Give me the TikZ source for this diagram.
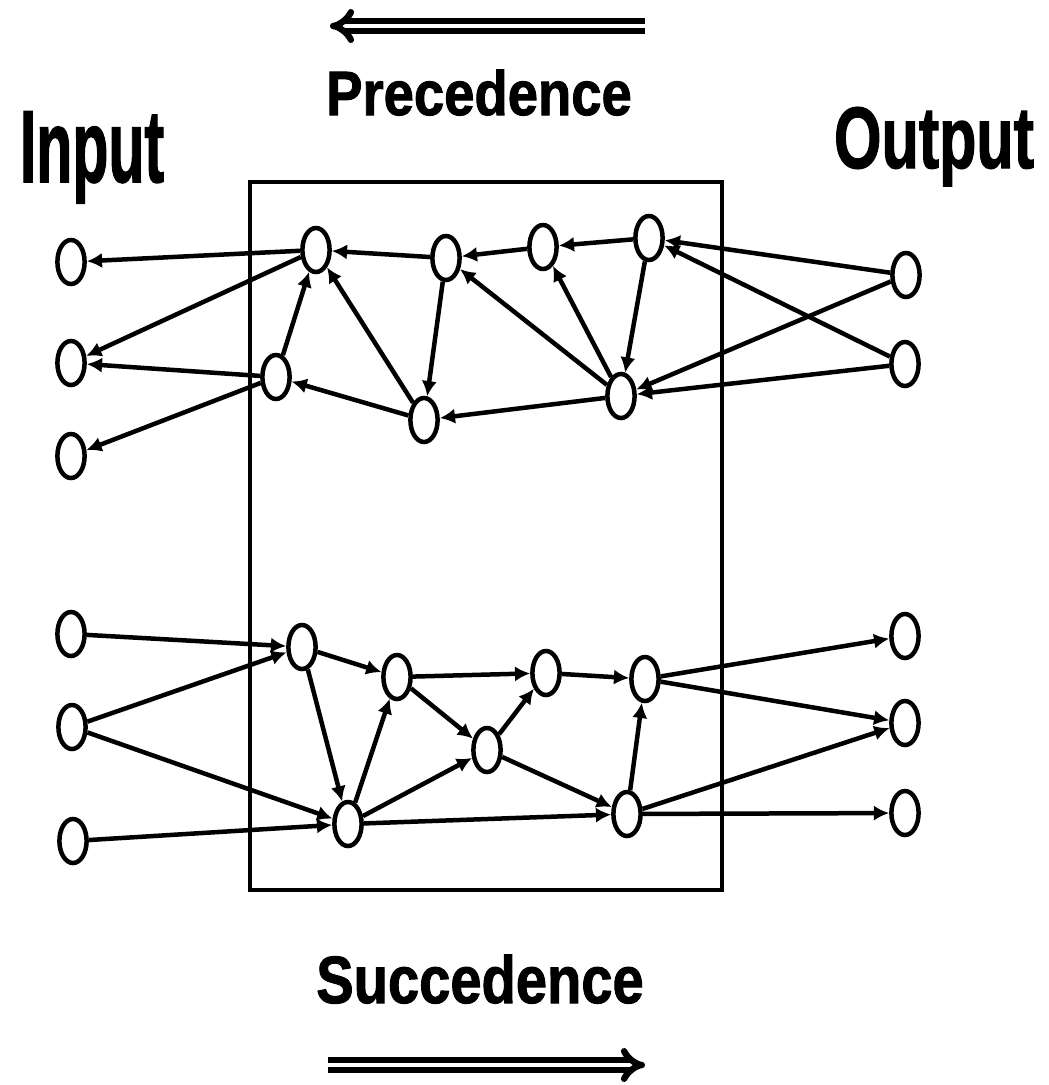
\documentclass[tikz,border=0pt]{standalone}
\usepackage{fontspec}
\setmainfont{Liberation Sans}
\newfontfamily\spesso[FakeBold=1.6]{Liberation Sans Bold}
\usetikzlibrary{arrows.meta, shapes.geometric}

\tikzset{
	nodo/.style={ellipse, draw, line width=3.2pt, minimum width=0.68cm, minimum height=1.1cm, inner sep=0pt, fill=white},
	freccia/.style={line width=3.2pt, -{Latex[length=0.38cm,width=0.38cm]}},
	grande/.style={line width=0.16cm, double distance=0.1cm, -{Implies[scale=1.35]}},
	etichetta/.style={inner sep=0pt, anchor=base},
}

\begin{document}
\begin{tikzpicture}[x=0.025cm, y=-0.025cm]
	
	% Sfondo e dimensioni
	\fill[white] (0,0) rectangle (1048,1085);
	\useasboundingbox (0,0) rectangle (1048,1085);
	
	% Scritte
	\node[etichetta] (tinput) at (92,182) {\fontsize{73}{80}\selectfont\spesso\scalebox{0.575}[1]{Input}};
	\node[etichetta] (toutput) at (934,168) {\fontsize{62}{70}\selectfont\spesso\scalebox{0.70}[1]{Output}};
	\node[etichetta] (tprec) at (479,115) {\fontsize{44.5}{50}\selectfont\spesso\scalebox{0.87}[1]{Precedence}};
	\node[etichetta] (tsucc) at (480,1003) {\fontsize{47.5}{52}\selectfont\spesso\scalebox{0.84}[1]{Succedence}};
	
	% Frecce grandi
	\coordinate (pinizio) at (645,26);
	\coordinate (pfine) at (330,26);
	\draw[grande] (pinizio) -- (pfine);
	\coordinate (sinizio) at (328,1065);
	\coordinate (sfine) at (645,1065);
	\draw[grande] (sinizio) -- (sfine);
	
	% Riquadro
	\draw[line width=2.6pt] (250,182) rectangle (722,890);
	
	% Nodi della parte superiore (precedenza)
	\node[nodo] (pi1) at (71,262) {};
	\node[nodo] (pi2) at (71,363) {};
	\node[nodo] (pi3) at (71,456) {};
	\node[nodo] (pa) at (316,250) {};
	\node[nodo] (pb) at (446,258) {};
	\node[nodo] (pc) at (543,247) {};
	\node[nodo] (pd) at (649,238) {};
	\node[nodo] (pe) at (276,377) {};
	\node[nodo] (pf) at (424,420) {};
	\node[nodo] (pg) at (621,396) {};
	\node[nodo] (po1) at (906,275) {};
	\node[nodo] (po2) at (905,364) {};
	
	% Archi della parte superiore
	\draw[freccia] (pa) -- (pi1);
	\draw[freccia] (pa) -- (pi2);
	\draw[freccia] (pe) -- (pi2);
	\draw[freccia] (pe) -- (pi3);
	\draw[freccia] (pe) -- (pa);
	\draw[freccia] (pb) -- (pa);
	\draw[freccia] (pf) -- (pa);
	\draw[freccia] (pf) -- (pe);
	\draw[freccia] (pb) -- (pf);
	\draw[freccia] (pc) -- (pb);
	\draw[freccia] (pg) -- (pb);
	\draw[freccia] (pd) -- (pc);
	\draw[freccia] (pg) -- (pc);
	\draw[freccia] (pd) -- (pg);
	\draw[freccia] (pg) -- (pf);
	\draw[freccia] (po1) -- (pd);
	\draw[freccia] (po2) -- (pd);
	\draw[freccia] (po1) -- (pg);
	\draw[freccia] (po2) -- (pg);
	
	% Nodi della parte inferiore (successione)
	\node[nodo] (si1) at (71,634) {};
	\node[nodo] (si2) at (72,727) {};
	\node[nodo] (si3) at (73,841) {};
	\node[nodo] (sa) at (302,647) {};
	\node[nodo] (sb) at (397,677) {};
	\node[nodo] (sc) at (348,824) {};
	\node[nodo] (sd) at (546,673) {};
	\node[nodo] (se) at (487,750) {};
	\node[nodo] (sf) at (645,679) {};
	\node[nodo] (sg) at (627,814) {};
	\node[nodo] (so1) at (905,636) {};
	\node[nodo] (so2) at (905,723) {};
	\node[nodo] (so3) at (905,813) {};
	
	% Archi della parte inferiore
	\draw[freccia] (si1) -- (sa);
	\draw[freccia] (si2) -- (sa);
	\draw[freccia] (si2) -- (sc);
	\draw[freccia] (si3) -- (sc);
	\draw[freccia] (sa) -- (sb);
	\draw[freccia] (sa) -- (sc);
	\draw[freccia] (sc) -- (sb);
	\draw[freccia] (sb) -- (sd);
	\draw[freccia] (sb) -- (se);
	\draw[freccia] (sc) -- (se);
	\draw[freccia] (se) -- (sd);
	\draw[freccia] (sd) -- (sf);
	\draw[freccia] (se) -- (sg);
	\draw[freccia] (sc) -- (sg);
	\draw[freccia] (sg) -- (sf);
	\draw[freccia] (sf) -- (so1);
	\draw[freccia] (sf) -- (so2);
	\draw[freccia] (sg) -- (so2);
	\draw[freccia] (sg) -- (so3);
	
\end{tikzpicture}
\end{document}
